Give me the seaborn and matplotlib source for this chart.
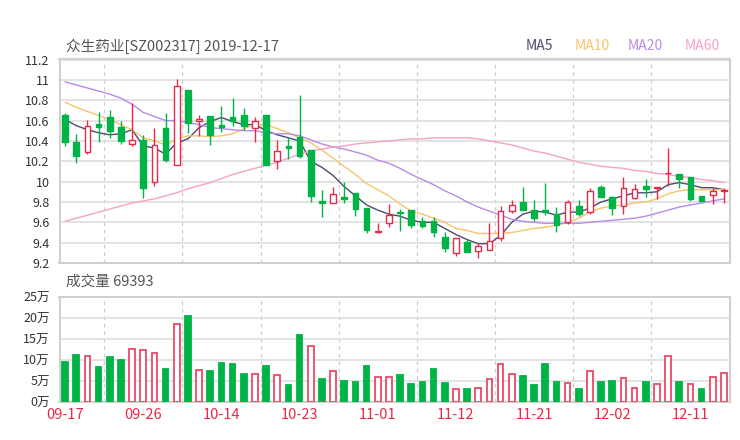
import numpy as np
import pandas as pd
import matplotlib
matplotlib.use("Agg")
import matplotlib.pyplot as plt
import seaborn as sns

# ---------------- data ----------------
title = "众生药业[SZ002317] 2019-12-17"
vol_title = "成交量 69393"

open_ = [10.65, 10.39, 10.29, 10.57, 10.63, 10.54, 10.37, 10.41, 10.00, 10.53,
         10.16, 10.90, 10.60, 10.64, 10.56, 10.63, 10.65, 10.53, 10.65, 10.20,
         10.35, 10.44, 10.31, 9.81, 9.79, 9.85, 9.89, 9.74, 9.50, 9.59,
         9.70, 9.72, 9.61, 9.61, 9.46, 9.30, 9.41, 9.32, 9.33, 9.45,
         9.71, 9.80, 9.72, 9.72, 9.68, 9.60, 9.76, 9.70, 9.95, 9.85,
         9.76, 9.84, 9.96, 9.94, 10.08, 10.07, 10.05, 9.86, 9.87, 9.91]
high = [10.67, 10.47, 10.61, 10.68, 10.70, 10.60, 10.77, 10.46, 10.53, 10.67,
        11.01, 10.90, 10.65, 10.64, 10.74, 10.82, 10.72, 10.63, 10.65, 10.41,
        10.44, 10.85, 10.31, 9.92, 9.95, 10.00, 9.89, 9.74, 9.59, 9.78,
        9.73, 9.72, 9.65, 9.65, 9.50, 9.45, 9.44, 9.40, 9.59, 9.76,
        9.82, 9.95, 9.82, 9.99, 9.75, 9.82, 9.82, 9.94, 9.97, 9.86,
        10.05, 9.98, 10.03, 9.95, 10.33, 10.07, 10.05, 9.86, 9.94, 9.94]
low = [10.35, 10.18, 10.27, 10.39, 10.43, 10.37, 10.35, 9.84, 9.96, 10.19,
       10.16, 10.48, 10.45, 10.36, 10.49, 10.55, 10.51, 10.39, 10.16, 10.12,
       10.22, 10.23, 9.80, 9.65, 9.79, 9.79, 9.66, 9.49, 9.49, 9.55,
       9.51, 9.54, 9.54, 9.46, 9.31, 9.27, 9.31, 9.25, 9.33, 9.42,
       9.69, 9.72, 9.61, 9.67, 9.50, 9.58, 9.66, 9.68, 9.85, 9.67,
       9.68, 9.83, 9.85, 9.83, 9.96, 9.94, 9.81, 9.81, 9.78, 9.79]
close = [10.39, 10.25, 10.55, 10.54, 10.50, 10.40, 10.41, 9.94, 10.36, 10.21,
         10.94, 10.58, 10.62, 10.46, 10.54, 10.60, 10.55, 10.60, 10.16, 10.30,
         10.33, 10.25, 9.86, 9.79, 9.88, 9.83, 9.73, 9.52, 9.51, 9.67,
         9.69, 9.57, 9.56, 9.50, 9.35, 9.45, 9.31, 9.37, 9.42, 9.71,
         9.77, 9.72, 9.64, 9.70, 9.57, 9.80, 9.68, 9.91, 9.85, 9.74,
         9.94, 9.93, 9.93, 9.945, 10.085, 10.03, 9.83, 9.81, 9.91, 9.92]

ma5 = [10.61, 10.55, 10.51, 10.48, 10.46, 10.47, 10.51, 10.35, 10.33, 10.27,
       10.38, 10.42, 10.53, 10.59, 10.63, 10.59, 10.56, 10.56, 10.50, 10.46,
       10.43, 10.40, 10.20, 10.14, 10.06, 9.95, 9.86, 9.77, 9.72, 9.68,
       9.66, 9.62, 9.60, 9.60, 9.54, 9.48, 9.43, 9.39, 9.39, 9.47,
       9.60, 9.68, 9.71, 9.70, 9.67, 9.70, 9.70, 9.74, 9.80, 9.83,
       9.86, 9.89, 9.89, 9.90, 9.97, 9.99, 9.97, 9.94, 9.94, 9.92]
ma10 = [10.78, 10.73, 10.69, 10.65, 10.61, 10.56, 10.51, 10.43, 10.40, 10.36,
        10.42, 10.45, 10.45, 10.44, 10.45, 10.47, 10.52, 10.56, 10.56, 10.52,
        10.48, 10.43, 10.38, 10.31, 10.23, 10.15, 10.07, 9.98, 9.92, 9.86,
        9.78, 9.71, 9.68, 9.64, 9.60, 9.54, 9.52, 9.49, 9.49, 9.49,
        9.50, 9.52, 9.54, 9.55, 9.57, 9.60, 9.64, 9.70, 9.74, 9.76,
        9.77, 9.79, 9.80, 9.83, 9.88, 9.91, 9.92, 9.92, 9.92, 9.92]
ma20 = [10.98, 10.95, 10.92, 10.89, 10.86, 10.82, 10.76, 10.68, 10.64, 10.60,
        10.60, 10.58, 10.56, 10.53, 10.52, 10.51, 10.50, 10.50, 10.48, 10.47,
        10.47, 10.45, 10.41, 10.37, 10.34, 10.32, 10.29, 10.26, 10.21, 10.18,
        10.13, 10.07, 10.02, 9.97, 9.91, 9.86, 9.80, 9.75, 9.71, 9.67,
        9.63, 9.61, 9.60, 9.59, 9.59, 9.59, 9.59, 9.60, 9.61, 9.62,
        9.63, 9.64, 9.66, 9.69, 9.72, 9.75, 9.77, 9.79, 9.81, 9.83]
ma60 = [9.61, 9.64, 9.67, 9.70, 9.73, 9.76, 9.79, 9.81, 9.83, 9.86,
        9.89, 9.93, 9.96, 9.99, 10.03, 10.07, 10.10, 10.13, 10.16, 10.19,
        10.23, 10.27, 10.30, 10.32, 10.34, 10.35, 10.37, 10.38, 10.39, 10.40,
        10.41, 10.42, 10.42, 10.43, 10.43, 10.43, 10.43, 10.42, 10.40, 10.38,
        10.36, 10.33, 10.30, 10.28, 10.25, 10.22, 10.19, 10.17, 10.15, 10.14,
        10.13, 10.11, 10.10, 10.08, 10.07, 10.05, 10.04, 10.02, 10.01, 9.99]

# volume in 万 (10k shares) and whether the bar is drawn as an "up" (hollow red) bar
volume = [9.5, 11.2, 11.0, 8.2, 10.8, 10.0, 12.7, 12.3, 11.7, 7.8,
          18.4, 20.4, 7.6, 7.4, 9.2, 9.0, 6.6, 6.6, 8.5, 6.5,
          4.0, 15.8, 13.4, 5.5, 7.4, 5.1, 4.7, 8.5, 6.0, 6.0,
          6.4, 4.3, 4.8, 7.9, 4.4, 3.1, 3.0, 3.3, 5.5, 9.1,
          6.6, 6.2, 4.1, 9.0, 4.8, 4.4, 3.0, 7.3, 4.8, 4.9,
          5.7, 3.3, 4.7, 4.2, 11.0, 4.7, 4.2, 3.1, 5.9, 6.94]
vol_up = [0, 0, 1, 0, 0, 0, 1, 1, 1, 0,
          1, 0, 1, 0, 0, 0, 0, 1, 0, 1,
          0, 0, 1, 0, 1, 0, 0, 0, 1, 1,
          0, 0, 0, 0, 0, 1, 0, 1, 1, 1,
          1, 0, 0, 0, 0, 1, 0, 1, 0, 0,
          1, 1, 0, 1, 1, 0, 1, 0, 1, 1]

xtick_pos = [0, 7, 14, 21, 28, 35, 42, 49, 56]
xtick_labels = ["09-17", "09-26", "10-14", "10-23", "11-01", "11-12", "11-21", "12-02", "12-11"]
price_ticks = [9.2, 9.4, 9.6, 9.8, 10.0, 10.2, 10.4, 10.6, 10.8, 11.0, 11.2]
price_labels = ["9.2", "9.4", "9.6", "9.8", "10", "10.2", "10.4", "10.6", "10.8", "11", "11.2"]
vol_ticks = [0, 5, 10, 15, 20, 25]
vol_labels = ["0万", "5万", "10万", "15万", "20万", "25万"]
ma_names = ["MA5", "MA10", "MA20", "MA60"]

# ---------------- style ----------------
sns.set_theme(style="white")
plt.rcParams["font.family"] = ["Noto Sans CJK SC", "DejaVu Sans"]

RED = "#e8294a"
VRED = "#ea4a64"
GREEN = "#00b347"
MA_COLORS = ["#4d4a6e", "#f8c46c", "#b88ae6", "#f7a1c8"]
GRID = "#dedede"
SPINE = "#d0d0d0"
TXT = "#333333"

W, H = 740, 440
fig = plt.figure(figsize=(7.4, 4.4), dpi=100)
left, right = 59.5, 729.5
ax = fig.add_axes([left / W, 1 - 263 / H, (right - left) / W, (263 - 59.5) / H])
axv = fig.add_axes([left / W, 1 - 402 / H, (right - left) / W, (402 - 296.7) / H])

df = pd.DataFrame({"open": open_, "high": high, "low": low, "close": close,
                   "ma5": ma5, "ma10": ma10, "ma20": ma20, "ma60": ma60,
                   "volume": volume, "vol_up": vol_up})
df["x"] = np.arange(len(df))
up = df["close"] >= df["open"]

for a in (ax, axv):
    a.set_xlim(-0.5, len(df) - 0.5)
    for s in a.spines.values():
        s.set_color(SPINE)
        s.set_linewidth(1.5)
    for vx in np.arange(3.5, len(df), 7):
        a.axvline(vx, color="#cccccc", lw=0.9, ls=(0, (3, 3)), zorder=0)
    a.tick_params(length=0)

# price grid
ax.set_ylim(9.2, 11.2)
ax.set_yticks(price_ticks)
ax.set_yticklabels(price_labels, fontsize=9, color=TXT)
ax.tick_params(axis="y", pad=7)
for yv in price_ticks:
    ax.axhline(yv, color=GRID, lw=1.2, zorder=0)
ax.set_xticks([])

# moving averages
for name, c in zip(["ma5", "ma10", "ma20", "ma60"], MA_COLORS):
    sns.lineplot(data=df, x="x", y=name, ax=ax, color=c, linewidth=1.0,
                 legend=False, zorder=2)
ax.set_xlabel("")
ax.set_ylabel("")

# candles (drawn above the MA lines)
cols = np.where(up, RED, GREEN)
ax.vlines(df["x"], df["low"], df["high"], colors=cols, lw=1, zorder=4)
body_bottom = np.minimum(df["open"], df["close"])
body_h = np.maximum(np.abs(df["close"] - df["open"]), 0.006)
ax.bar(df["x"], body_h, bottom=body_bottom, width=0.5,
       color=np.where(up, "white", GREEN), edgecolor=cols, linewidth=1, zorder=5)

# volume
axv.set_ylim(0, 25)
axv.set_yticks(vol_ticks)
axv.set_yticklabels(vol_labels, fontsize=9, color=TXT)
axv.tick_params(axis="y", pad=7)
for yv in vol_ticks:
    axv.axhline(yv, color=GRID, lw=1.2, zorder=0)
vup = df["vol_up"].astype(bool)
vcols = np.where(vup, VRED, GREEN)
axv.bar(df["x"], df["volume"], width=0.5, color=np.where(vup, "white", GREEN),
        edgecolor=vcols, linewidth=1.3, zorder=3)
axv.set_xticks(xtick_pos)
axv.set_xticklabels(xtick_labels, fontsize=10.5, color=RED)
axv.tick_params(axis="x", pad=4)

# texts
fig.text(66 / W, 1 - 46 / H, title, fontsize=10.5, color="#555555", va="center", ha="left")
fig.text(66 / W, 1 - 282 / H, vol_title, fontsize=10.5, color="#555555", va="center", ha="left")
for name, c, px in zip(ma_names, MA_COLORS, [526, 575, 628, 685]):
    fig.text(px / W, 1 - 46 / H, name, fontsize=10, color=c, va="center", ha="left")

fig.savefig("out.png", dpi=100)
